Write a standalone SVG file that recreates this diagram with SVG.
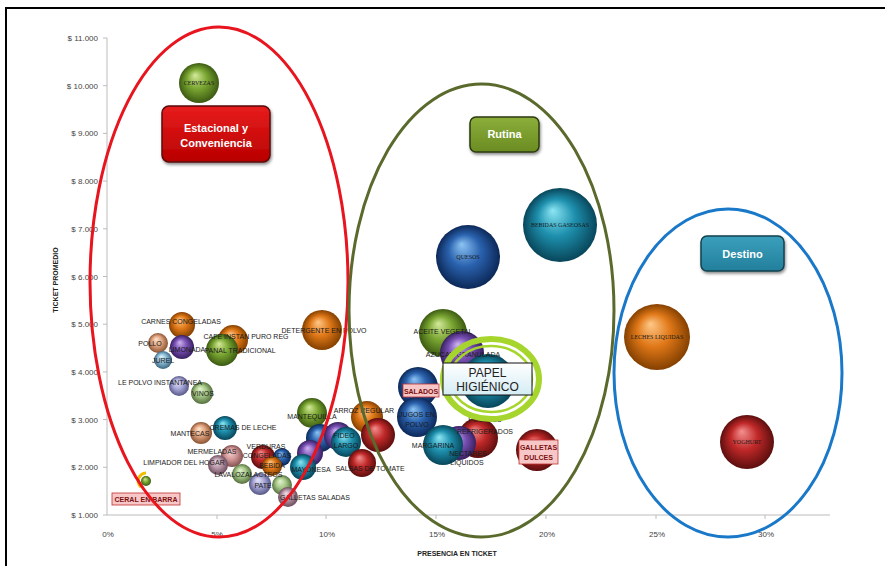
<svg xmlns="http://www.w3.org/2000/svg" width="885" height="566" viewBox="0 0 885 566">
<style>
.tick{font-family:"Liberation Sans Narrow","Liberation Sans",Arial,sans-serif;font-size:8px;fill:#444}
.ttl{font-family:"Liberation Sans Narrow","Liberation Sans",Arial,sans-serif;font-size:7px;font-weight:bold;fill:#222}
.lb{font-family:"Liberation Sans Narrow","Liberation Sans",Arial,sans-serif;font-size:7px;fill:#1a1a1a;text-anchor:middle}
.lbs{font-family:"Liberation Serif","Times New Roman",serif;font-size:6px;fill:#1a1a1a;text-anchor:middle}
.box{font-family:"Liberation Sans",Arial,sans-serif;font-size:11px;font-weight:bold;fill:#fff;text-anchor:middle}
.pk{fill:#f7c6c6;stroke:#c03030;stroke-width:0.8}
.pkt{font-family:"Liberation Sans Narrow","Liberation Sans",Arial,sans-serif;font-size:7px;font-weight:bold;fill:#7a1010;text-anchor:middle}
.ax{stroke:#bcbcbc;stroke-width:1;fill:none}
</style>
<defs>
<filter id="sh" x="-20%" y="-20%" width="140%" height="150%"><feDropShadow dx="1" dy="2" stdDeviation="1.5" flood-color="#000" flood-opacity="0.45"/></filter>
<radialGradient id="gGreen" cx="0.5" cy="0.5" r="0.5" fx="0.4" fy="0.3"><stop offset="0" stop-color="#d4ea9a"/><stop offset="0.5" stop-color="#7aa632"/><stop offset="1" stop-color="#3c5a12"/></radialGradient>
<radialGradient id="gOrange" cx="0.5" cy="0.5" r="0.5" fx="0.4" fy="0.3"><stop offset="0" stop-color="#ffc888"/><stop offset="0.5" stop-color="#e07818"/><stop offset="1" stop-color="#844000"/></radialGradient>
<radialGradient id="gPurple" cx="0.5" cy="0.5" r="0.5" fx="0.4" fy="0.3"><stop offset="0" stop-color="#d0b4f0"/><stop offset="0.5" stop-color="#7850b4"/><stop offset="1" stop-color="#382060"/></radialGradient>
<radialGradient id="gBlue" cx="0.5" cy="0.5" r="0.5" fx="0.4" fy="0.3"><stop offset="0" stop-color="#8cc4f4"/><stop offset="0.5" stop-color="#2a62ae"/><stop offset="1" stop-color="#0c2858"/></radialGradient>
<radialGradient id="gTeal" cx="0.5" cy="0.5" r="0.5" fx="0.4" fy="0.3"><stop offset="0" stop-color="#8ce6f4"/><stop offset="0.5" stop-color="#1e90ae"/><stop offset="1" stop-color="#08465a"/></radialGradient>
<radialGradient id="gRed" cx="0.5" cy="0.5" r="0.5" fx="0.4" fy="0.3"><stop offset="0" stop-color="#f49090"/><stop offset="0.5" stop-color="#c02828"/><stop offset="1" stop-color="#5c0e0e"/></radialGradient>
<radialGradient id="gPink" cx="0.5" cy="0.5" r="0.5" fx="0.4" fy="0.3"><stop offset="0" stop-color="#fadada"/><stop offset="0.5" stop-color="#d49a9a"/><stop offset="1" stop-color="#845050"/></radialGradient>
<radialGradient id="gPeach" cx="0.5" cy="0.5" r="0.5" fx="0.4" fy="0.3"><stop offset="0" stop-color="#ffe4cc"/><stop offset="0.5" stop-color="#e0a480"/><stop offset="1" stop-color="#8c5434"/></radialGradient>
<radialGradient id="gLav" cx="0.5" cy="0.5" r="0.5" fx="0.4" fy="0.3"><stop offset="0" stop-color="#e8e8fa"/><stop offset="0.5" stop-color="#a8a8d8"/><stop offset="1" stop-color="#585888"/></radialGradient>
<radialGradient id="gLBlue" cx="0.5" cy="0.5" r="0.5" fx="0.4" fy="0.3"><stop offset="0" stop-color="#e0f4fa"/><stop offset="0.5" stop-color="#8cbcd6"/><stop offset="1" stop-color="#3c6680"/></radialGradient>
<radialGradient id="gMauve" cx="0.5" cy="0.5" r="0.5" fx="0.4" fy="0.3"><stop offset="0" stop-color="#eedde6"/><stop offset="0.5" stop-color="#b896a8"/><stop offset="1" stop-color="#6c4c5c"/></radialGradient>
<radialGradient id="gLGreen" cx="0.5" cy="0.5" r="0.5" fx="0.4" fy="0.3"><stop offset="0" stop-color="#e6f4d2"/><stop offset="0.5" stop-color="#a6c888"/><stop offset="1" stop-color="#56703e"/></radialGradient>
<linearGradient id="gBoxRed" x1="0" y1="0" x2="0" y2="1"><stop offset="0" stop-color="#e81c1c"/><stop offset="1" stop-color="#b80000"/></linearGradient>
<linearGradient id="gBoxGreen" x1="0" y1="0" x2="0" y2="1"><stop offset="0" stop-color="#8cae3a"/><stop offset="1" stop-color="#6a8c22"/></linearGradient>
<linearGradient id="gBoxTeal" x1="0" y1="0" x2="0" y2="1"><stop offset="0" stop-color="#3aa0bc"/><stop offset="1" stop-color="#237f9c"/></linearGradient>
<linearGradient id="gPaper" x1="0" y1="0" x2="0" y2="1"><stop offset="0" stop-color="#ffffff"/><stop offset="1" stop-color="#d4ecf4"/></linearGradient>
</defs>
<rect x="0" y="0" width="885" height="566" fill="#fff"/>
<rect x="6" y="8" width="880" height="560" fill="none" stroke="#000" stroke-width="2"/>

<g id="axes">
<line class="ax" x1="107" y1="38" x2="107" y2="515"/>
<line class="ax" x1="107" y1="515" x2="830" y2="515"/>
<g class="ax">
<line x1="103" y1="38" x2="107" y2="38"/><line x1="103" y1="85.7" x2="107" y2="85.7"/><line x1="103" y1="133.4" x2="107" y2="133.4"/><line x1="103" y1="181.1" x2="107" y2="181.1"/><line x1="103" y1="228.8" x2="107" y2="228.8"/><line x1="103" y1="276.5" x2="107" y2="276.5"/><line x1="103" y1="324.2" x2="107" y2="324.2"/><line x1="103" y1="371.9" x2="107" y2="371.9"/><line x1="103" y1="419.6" x2="107" y2="419.6"/><line x1="103" y1="467.3" x2="107" y2="467.3"/><line x1="103" y1="515" x2="107" y2="515"/>
<line x1="217" y1="515" x2="217" y2="519"/><line x1="326" y1="515" x2="326" y2="519"/><line x1="436" y1="515" x2="436" y2="519"/><line x1="546" y1="515" x2="546" y2="519"/><line x1="656" y1="515" x2="656" y2="519"/><line x1="765" y1="515" x2="765" y2="519"/>
</g>
<g class="tick" text-anchor="end">
<text x="98" y="41">$ 11.000</text><text x="98" y="88.5">$ 10.000</text><text x="98" y="136">$ 9.000</text><text x="98" y="184">$ 8.000</text><text x="98" y="231.5">$ 7.000</text><text x="98" y="279.5">$ 6.000</text><text x="98" y="327">$ 5.000</text><text x="98" y="375">$ 4.000</text><text x="98" y="422.5">$ 3.000</text><text x="98" y="470">$ 2.000</text><text x="98" y="518">$ 1.000</text>
</g>
<g class="tick" text-anchor="middle">
<text x="108" y="537">0%</text><text x="217" y="537">5%</text><text x="327" y="537">10%</text><text x="437" y="537">15%</text><text x="547" y="537">20%</text><text x="657" y="537">25%</text><text x="766" y="537">30%</text>
</g>
<text class="ttl" x="457" y="556" text-anchor="middle">PRESENCIA EN TICKET</text>
<text class="ttl" x="0" y="0" text-anchor="middle" transform="translate(58,280) rotate(-90)">TICKET PROMEDIO</text>
</g>

<g id="bubbles">
<g id="n-cervezas"><circle cx="199" cy="83" r="20" fill="url(#gGreen)"/></g>
<g id="n-bebidas-gaseosas"><circle cx="560" cy="225" r="37" fill="url(#gTeal)"/></g>
<g id="n-quesos"><circle cx="468" cy="257" r="32" fill="url(#gBlue)"/></g>
<g id="n-leches-liquidas"><circle cx="657" cy="337" r="33" fill="url(#gOrange)"/></g>
<g id="n-yoghurt"><circle cx="747" cy="442" r="27" fill="url(#gRed)"/></g>
<g id="n-detergente"><circle cx="322" cy="330" r="20" fill="url(#gOrange)"/></g>
<g id="n-carnes"><circle cx="182" cy="325" r="13" fill="url(#gOrange)"/></g>
<g id="n-pollo"><circle cx="158" cy="343" r="10" fill="url(#gPeach)"/></g>
<g id="n-limonada"><circle cx="182" cy="347" r="12" fill="url(#gPurple)"/></g>
<g id="n-jurel"><circle cx="163" cy="360" r="9" fill="url(#gLBlue)"/></g>
<g id="n-cafe"><circle cx="233" cy="340" r="15" fill="url(#gOrange)"/></g>
<g id="n-panal"><circle cx="222" cy="350" r="16" fill="url(#gGreen)"/></g>
<g id="n-leche-polvo"><circle cx="179" cy="386" r="10" fill="url(#gLav)"/></g>
<g id="n-vinos"><circle cx="202" cy="393" r="11" fill="url(#gLGreen)"/></g>
<g id="n-mantecas"><circle cx="201" cy="433" r="11" fill="url(#gPeach)"/></g>
<g id="n-cremas"><circle cx="225" cy="428" r="12" fill="url(#gTeal)"/></g>
<g id="n-mermeladas"><circle cx="232" cy="456" r="11" fill="url(#gPink)"/></g>
<g id="n-limpiador"><circle cx="218" cy="465" r="10" fill="url(#gMauve)"/></g>
<g id="n-verduras"><circle cx="263" cy="457" r="12" fill="url(#gRed)"/><circle cx="282" cy="457" r="9" fill="url(#gBlue)"/></g>
<g id="n-bebidas"><circle cx="272" cy="466" r="10" fill="url(#gOrange)"/></g>
<g id="n-lavaloza"><circle cx="242" cy="474" r="10" fill="url(#gLGreen)"/></g>
<g id="n-pate"><circle cx="260" cy="484" r="11" fill="url(#gLav)"/><circle cx="282" cy="485" r="10" fill="url(#gLGreen)"/></g>
<g id="n-galletas-saladas"><circle cx="288" cy="497" r="10" fill="url(#gMauve)"/></g>
<g id="n-cereal"><path d="M141 487 A8 8 0 0 1 146 473" fill="none" stroke="#f0c000" stroke-width="3"/><circle cx="146" cy="481" r="5" fill="url(#gGreen)"/></g>
<g id="n-mantequilla"><circle cx="312" cy="413" r="15" fill="url(#gGreen)"/></g>
<g id="n-arroz"><circle cx="367" cy="417" r="16" fill="url(#gOrange)"/></g>
<g id="n-red1"><circle cx="378" cy="435" r="17" fill="url(#gRed)"/></g>
<g id="n-blue1"><circle cx="320" cy="438" r="14" fill="url(#gBlue)"/></g>
<g id="n-purple1"><circle cx="338" cy="436" r="14" fill="url(#gPurple)"/></g>
<g id="n-fideo"><circle cx="346" cy="442" r="15" fill="url(#gTeal)"/></g>
<g id="n-salsas"><circle cx="362" cy="463" r="14" fill="url(#gRed)"/></g>
<g id="n-mayonesa"><circle cx="310" cy="453" r="13" fill="url(#gPurple)"/><circle cx="303" cy="467" r="13" fill="url(#gTeal)"/></g>
<g id="n-aceite"><circle cx="443" cy="333" r="24" fill="url(#gGreen)"/></g>
<g id="n-azucar"><circle cx="462" cy="353" r="22" fill="url(#gPurple)"/></g>
<g id="n-teal-papel"><circle cx="488" cy="381" r="27" fill="url(#gTeal)"/></g>
<g id="n-salados"><circle cx="418" cy="387" r="20" fill="url(#gBlue)"/></g>
<g id="n-jugos"><circle cx="417" cy="417" r="20" fill="url(#gBlue)"/></g>
<g id="n-postres"><circle cx="478" cy="438" r="20" fill="url(#gRed)"/></g>
<g id="n-nectares"><circle cx="459" cy="443" r="17" fill="url(#gPurple)"/></g>
<g id="n-margarina"><circle cx="443" cy="445" r="20" fill="url(#gTeal)"/></g>
<g id="n-galletas-dulces"><circle cx="537" cy="450" r="21" fill="url(#gRed)"/></g>
</g>

<g id="labels">
<text class="lbs" x="199" y="85">CERVEZAS</text>
<text class="lbs" x="560" y="227">BEBIDAS GASEOSAS</text>
<text class="lbs" x="468" y="259">QUESOS</text>
<text class="lbs" x="657" y="339">LECHES LIQUIDAS</text>
<text class="lbs" x="747" y="444">YOGHURT</text>
<text class="lb" x="324" y="333">DETERGENTE EN POLVO</text>
<text class="lb" x="181" y="324">CARNES CONGELADAS</text>
<text class="lb" x="150" y="346">POLLO</text>
<text class="lb" x="187" y="352">LIMONADA</text>
<text class="lb" x="163" y="363">JUREL</text>
<text class="lb" x="246" y="339">CAFE INSTAN PURO REG</text>
<text class="lb" x="240" y="353">PANAL TRADICIONAL</text>
<text class="lb" x="160" y="385">LE POLVO INSTANTANEA</text>
<text class="lb" x="203" y="396">VINOS</text>
<text class="lb" x="190" y="436">MANTECAS</text>
<text class="lb" x="243" y="430">CREMAS DE LECHE</text>
<text class="lb" x="212" y="454">MERMELADAS</text>
<text class="lb" x="184" y="465">LIMPIADOR DEL HOGAR</text>
<text class="lb" x="266" y="449">VERDURAS</text>
<text class="lb" x="267" y="458">CONGELADAS</text>
<text class="lb" x="272" y="468">BEBIDA</text>
<text class="lb" x="232" y="477" font-size="6.5">LAVALOZA</text>
<text class="lb" x="266" y="477" font-size="6.5">LACTEOS</text>
<text class="lb" x="263" y="488">PATE</text>
<text class="lb" x="315" y="500">GALLETAS SALADAS</text>
<text class="lb" x="312" y="419">MANTEQUILLA</text>
<text class="lb" x="364" y="413">ARROZ REGULAR</text>
<text class="lb" x="344" y="438">FIDEO</text>
<text class="lb" x="346" y="448">LARGO</text>
<text class="lb" x="370" y="471">SALSAS DE TOMATE</text>
<text class="lb" x="311" y="472">MAYONESA</text>
<text class="lb" x="443" y="334">ACEITE VEGETAL</text>
<text class="lb" x="463" y="357">AZUCAR GRANULADA</text>
<text class="lb" x="417" y="417">JUGOS EN</text>
<text class="lb" x="417" y="427">POLVO</text>
<text class="lb" x="485" y="422">POSTRES</text>
<text class="lb" x="485" y="434">REFRIGERADOS</text>
<text class="lb" x="468" y="456">NECTARES</text>
<text class="lb" x="467" y="465">LIQUIDOS</text>
<text class="lb" x="433" y="448">MARGARINA</text>
<g id="n-salados-label"><rect class="pk" x="403" y="384" width="36" height="13"/><text class="pkt" x="421" y="394">SALADOS</text></g>
<g id="n-galletas-dulces-label"><rect class="pk" x="519" y="440" width="39" height="24"/><text class="pkt" x="538.5" y="450">GALLETAS</text><text class="pkt" x="538.5" y="460">DULCES</text></g>
<g id="n-cereal-label"><rect class="pk" x="112" y="493" width="68" height="12"/><text class="pkt" x="146" y="502" font-weight="normal">CERAL EN BARRA</text></g>
</g>

<g id="groups" fill="none">
<ellipse id="e-estacional" cx="219" cy="282" rx="129" ry="255" stroke="#e8141e" stroke-width="3"/>
<ellipse id="e-rutina" cx="481.5" cy="310.5" rx="132.5" ry="226.5" stroke="#5a6a2c" stroke-width="3"/>
<ellipse id="e-destino" cx="728" cy="373" rx="114" ry="164" stroke="#1a78c8" stroke-width="3"/>
</g>

<g id="n-papel">
<ellipse cx="491" cy="379" rx="48" ry="40" fill="none" stroke="#a6d62e" stroke-width="6"/>
<ellipse cx="491" cy="379" rx="41" ry="33" fill="none" stroke="#a6d62e" stroke-width="2.5"/>
<rect x="443" y="363" width="89" height="32" fill="url(#gPaper)" stroke="#111" stroke-width="1"/>
<text x="487.5" y="377" font-family="Liberation Sans,Arial,sans-serif" font-size="12" fill="#222" text-anchor="middle">PAPEL</text>
<text x="487.5" y="391" font-family="Liberation Sans,Arial,sans-serif" font-size="12" fill="#222" text-anchor="middle">HIGIÉNICO</text>
</g>

<g id="n-estacional-label"><rect x="162" y="106" width="108" height="56" rx="7" fill="url(#gBoxRed)" stroke="#5a0a0a" stroke-width="1.5" filter="url(#sh)"/><text class="box" x="216" y="132">Estacional y</text><text class="box" x="216" y="147">Conveniencia</text></g>
<g id="n-rutina-label"><rect x="470" y="117" width="69" height="35" rx="6" fill="url(#gBoxGreen)" stroke="#2e3a10" stroke-width="1.5" filter="url(#sh)"/><text class="box" x="504.5" y="138">Rutina</text></g>
<g id="n-destino-label"><rect x="701" y="236" width="83" height="35" rx="6" fill="url(#gBoxTeal)" stroke="#16404e" stroke-width="1.5" filter="url(#sh)"/><text class="box" x="742.5" y="258">Destino</text></g>

<g id="connectors"/>
</svg>
